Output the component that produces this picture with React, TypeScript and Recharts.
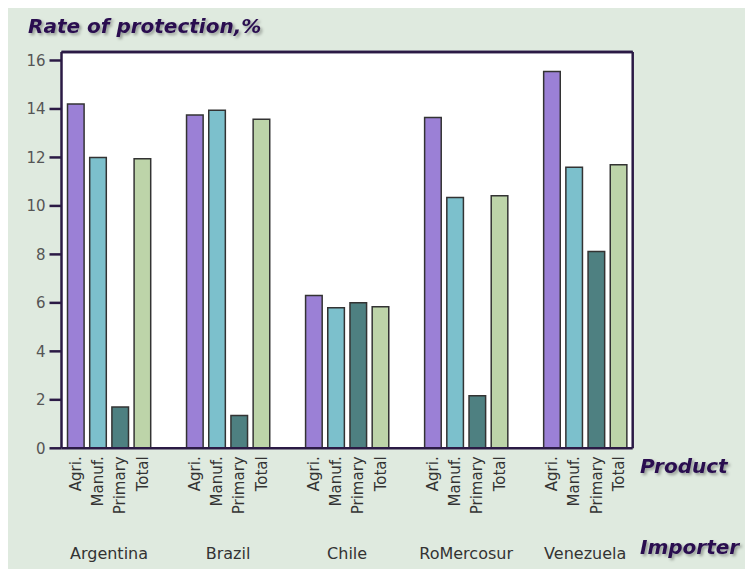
import React from 'react';
import { BarChart, Bar, XAxis, YAxis, CartesianGrid, ReferenceLine } from 'recharts';

const countries = ['Argentina', 'Brazil', 'Chile', 'RoMercosur', 'Venezuela'];
const products = ['Agri.', 'Manuf.', 'Primary', 'Total'];
const agri = [14.2, 13.75, 6.3, 13.65, 15.55];
const manuf = [12.0, 13.95, 5.8, 10.35, 11.6];
const primary = [1.7, 1.35, 6.0, 2.17, 8.12];
const total = [11.95, 13.58, 5.84, 10.42, 11.7];
const yTicks = [0, 2, 4, 6, 8, 10, 12, 14, 16];
const Y_MAX = 16.35;

const keys = ['agri', 'manuf', 'primary', 'total'];
const colors = ['#9b80d6', '#7cc0cc', '#4e8081', '#bdd4a9'];

const data = countries.map((c, i) => ({
  country: c,
  agri: agri[i],
  manuf: manuf[i],
  primary: primary[i],
  total: total[i],
}));

const W = 745;
const H = 565;
const BAR = 16.6;
const GAP = 5.6;
const FONT = '"DejaVu Sans", Verdana, sans-serif';
const AXIS = '#2b1a45';

const XTick = (props: any) => {
  const { x, y, payload } = props;
  const pitch = BAR + GAP;
  return (
    <g>
      {products.map((p, i) => {
        const cx = x + (i - 1.5) * pitch;
        const ty = y + 2;
        return (
          <text
            key={p}
            x={cx}
            y={ty}
            transform={`rotate(-90, ${cx}, ${ty})`}
            textAnchor="end"
            dy="0.35em"
            fontSize={15}
            fontFamily={FONT}
            fill="#333"
          >
            {p}
          </text>
        );
      })}
      <text x={x} y={y + 105} textAnchor="middle" fontSize={16} fontFamily={FONT} fill="#333">
        {payload.value}
      </text>
    </g>
  );
};

export default function App() {
  return (
    <div style={{ position: 'relative', width: W, height: H, marginTop: -4, background: '#dfeadf' }}>
      <BarChart
        width={W}
        height={H}
        data={data}
        margin={{ top: 47, right: 119.3, bottom: 20.7, left: 8.5 }}
        barSize={BAR}
        barGap={GAP}
      >
        <CartesianGrid horizontal={false} vertical={false} fill="#ffffff" xAxisId="bottom" yAxisId="left" />
        <XAxis
          xAxisId="bottom"
          dataKey="country"
          type="category"
          padding={{ left: -12, right: -12 }}
          height={100}
          tickLine={false}
          tickMargin={0}
          axisLine={{ stroke: AXIS, strokeWidth: 2.5 }}
          tick={<XTick />}
          interval={0}
        />
        <XAxis
          xAxisId="top"
          orientation="top"
          dataKey="country"
          height={1}
          tick={false}
          tickLine={false}
          axisLine={{ stroke: AXIS, strokeWidth: 2.5 }}
        />
        <YAxis
          yAxisId="left"
          width={45}
          domain={[0, Y_MAX]}
          ticks={yTicks}
          interval={0}
          tickSize={12}
          tickMargin={4}
          allowDataOverflow
          axisLine={{ stroke: AXIS, strokeWidth: 2.5 }}
          tickLine={{ stroke: AXIS, strokeWidth: 2.5 }}
          tick={{ fill: '#555', fontSize: 15, fontFamily: FONT }}
        />
        <YAxis
          yAxisId="right"
          orientation="right"
          width={1}
          domain={[0, Y_MAX]}
          tick={false}
          tickLine={false}
          axisLine={{ stroke: AXIS, strokeWidth: 2.5 }}
        />
        <ReferenceLine xAxisId="bottom" yAxisId="left" y={Y_MAX} stroke={AXIS} strokeWidth={2.5} ifOverflow="extendDomain" />
        {keys.map((k, i) => (
          <Bar
            key={k}
            dataKey={k}
            xAxisId="bottom"
            yAxisId="left"
            fill={colors[i]}
            stroke="#333"
            strokeWidth={1.5}
            isAnimationActive={false}
          />
        ))}
      </BarChart>
      <svg
        width={W}
        height={H}
        style={{ position: 'absolute', left: 0, top: 0, pointerEvents: 'none' }}
      >
        <defs>
          <filter id="sh" x="-10%" y="-30%" width="130%" height="180%">
            <feDropShadow dx="2" dy="2" stdDeviation="1.5" floodColor="#000" floodOpacity="0.35" />
          </filter>
        </defs>
        <text x={20} y={29} fontSize={20} fontWeight="bold" fontStyle="italic" fontFamily={FONT} fill="#2a1050" filter="url(#sh)">
          Rate of protection,%
        </text>
        <text x={632} y={469} fontSize={20} fontWeight="bold" fontStyle="italic" fontFamily={FONT} fill="#2a1050" filter="url(#sh)">
          Product
        </text>
        <text x={632} y={550} fontSize={20} fontWeight="bold" fontStyle="italic" fontFamily={FONT} fill="#2a1050" filter="url(#sh)">
          Importer
        </text>
      </svg>
    </div>
  );
}
